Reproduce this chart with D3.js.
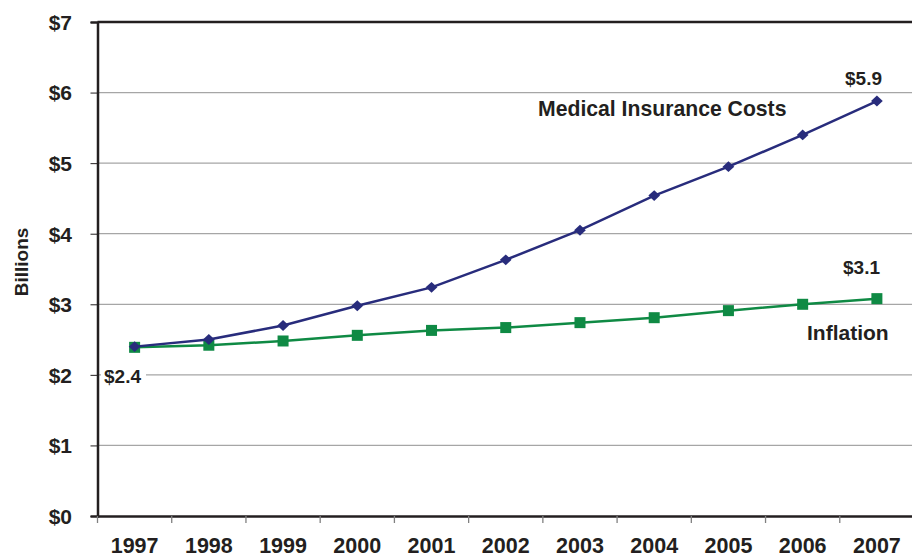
<!DOCTYPE html>
<html>
<head>
<meta charset="utf-8">
<script src="https://cdn.jsdelivr.net/npm/d3@7"></script>
<style>
  body { margin: 0; background: #fff; }
  text { font-family: "Liberation Sans", Arial, sans-serif; font-weight: bold; fill: #231f20; }
</style>
</head>
<body>
<svg id="chart" width="912" height="557"></svg>
<script>
/*
Data
*/
var years = ["1997","1998","1999","2000","2001","2002","2003","2004","2005","2006","2007"];
var medical = [2.4, 2.5, 2.7, 2.98, 3.24, 3.63, 4.05, 4.54, 4.95, 5.4, 5.88];
var inflation = [2.39, 2.42, 2.48, 2.56, 2.63, 2.67, 2.74, 2.81, 2.91, 3.0, 3.08];
var yTicks = [0, 1, 2, 3, 4, 5, 6, 7];

var plotLeft = 97.5, plotRight = 914, plotTop = 22, plotBottom = 516;
var svg = d3.select("#chart");

var x = d3.scaleBand().domain(years).range([plotLeft, plotRight]);
var y = d3.scaleLinear().domain([0, 7]).range([plotBottom, plotTop]);
function cx(d){ return x(d) + x.bandwidth()/2; }

// gridlines
svg.append("g")
   .selectAll("line")
   .data(yTicks.filter(function(d){ return d > 0 && d < 7; }))
   .enter().append("line")
   .attr("x1", plotLeft).attr("x2", plotRight)
   .attr("y1", function(d){ return y(d); })
   .attr("y2", function(d){ return y(d); })
   .style("stroke", "#a6a6a6").style("stroke-width", 1.3);

// top border
svg.append("line")
   .attr("x1", plotLeft).attr("x2", plotRight)
   .attr("y1", y(7)).attr("y2", y(7))
   .style("stroke", "#231f20").style("stroke-width", 2.5);

// y axis
var yAxis = svg.append("g")
   .attr("transform", "translate(" + plotLeft + ",0)")
   .call(d3.axisLeft(y).tickValues(yTicks).tickSize(7).tickPadding(18.5)
          .tickFormat(function(d){ return "$" + d; }));
yAxis.select(".domain").style("stroke", "#231f20").style("stroke-width", 2.5);
yAxis.selectAll(".tick line").style("stroke", "#231f20");
yAxis.selectAll("text").style("font-size", "21px").attr("dy", "0.35em");

// x axis
var xAxis = svg.append("g")
   .attr("transform", "translate(0," + plotBottom + ")")
   .call(d3.axisBottom(x).tickSize(0).tickPadding(0));
xAxis.select(".domain").style("stroke", "#231f20").style("stroke-width", 2.5);
xAxis.selectAll("text").style("font-size", "21.5px").attr("dy", null).attr("y", 36.5);
xAxis.append("g")
   .selectAll("line")
   .data(years)
   .enter().append("line")
   .attr("x1", function(d){ return x(d); })
   .attr("x2", function(d){ return x(d); })
   .attr("y1", 0).attr("y2", 7)
   .style("stroke", "#808080").style("stroke-width", 1.3);

// y title
svg.append("text")
   .attr("transform", "translate(28,262) rotate(-90)")
   .attr("text-anchor", "middle")
   .style("font-size", "19px")
   .text("Billions");

// lines
var line = d3.line()
   .x(function(d, i){ return cx(years[i]); })
   .y(function(d){ return y(d); });

svg.append("path").datum(inflation)
   .attr("d", line)
   .style("fill", "none").style("stroke", "#0f8a44").style("stroke-width", 2.5);
svg.append("g").selectAll("rect")
   .data(inflation)
   .enter().append("rect")
   .attr("x", function(d, i){ return cx(years[i]) - 5.5; })
   .attr("y", function(d){ return y(d) - 5.5; })
   .attr("width", 11).attr("height", 11)
   .style("fill", "#0f8a44");

svg.append("path").datum(medical)
   .attr("d", line)
   .style("fill", "none").style("stroke", "#282c7c").style("stroke-width", 2.5);
svg.append("g").selectAll("path")
   .data(medical)
   .enter().append("path")
   .attr("d", d3.symbol().type(d3.symbolDiamond).size(70))
   .attr("transform", function(d, i){
     return "translate(" + cx(years[i]) + "," + y(d) + ") scale(1.3,0.7)";
   })
   .style("fill", "#282c7c");

// annotations
svg.append("rect")
   .attr("x", 101).attr("y", y(2) - 11).attr("width", 45).attr("height", 22)
   .style("fill", "#fff");
svg.append("text")
   .attr("x", 104).attr("y", 383)
   .style("font-size", "19px")
   .text("$" + medical[0].toFixed(1));

svg.append("text")
   .attr("x", 863.5).attr("y", 85)
   .attr("text-anchor", "middle")
   .style("font-size", "19px")
   .text("$" + medical[10].toFixed(1));

svg.append("text")
   .attr("x", 861.5).attr("y", 274)
   .attr("text-anchor", "middle")
   .style("font-size", "19px")
   .text("$" + inflation[10].toFixed(1));

svg.append("text")
   .attr("x", 538).attr("y", 116)
   .style("font-size", "21.2px")
   .text("Medical Insurance Costs");

svg.append("text")
   .attr("x", 807).attr("y", 340)
   .style("font-size", "21px")
   .text("Inflation");
</script>
</body>
</html>
